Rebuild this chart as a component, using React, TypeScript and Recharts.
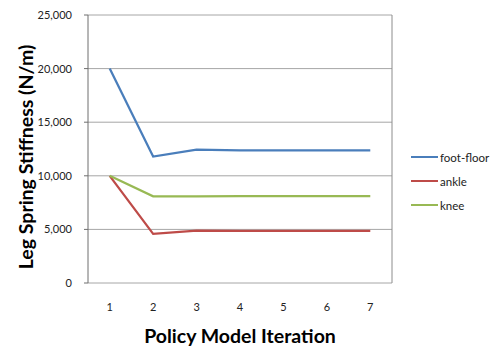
import { LineChart, Line, XAxis, YAxis, CartesianGrid, ReferenceLine, Label } from 'recharts';

const iterations = [1, 2, 3, 4, 5, 6, 7];
const footFloor = [20000, 11800, 12440, 12370, 12370, 12370, 12370];
const ankle = [10000, 4580, 4880, 4870, 4870, 4870, 4870];
const knee = [10000, 8080, 8090, 8110, 8110, 8110, 8110];

const yTicks = [0, 5000, 10000, 15000, 20000, 25000];
const bandEdges = [0.5, 1.5, 2.5, 3.5, 4.5, 5.5, 6.5, 7.5];

const SERIES = [
    { key: 'footFloor', name: 'foot-floor', color: '#4A7EBB' },
    { key: 'ankle', name: 'ankle', color: '#BE4B48' },
    { key: 'knee', name: 'knee', color: '#98B954' },
];

const FONT = 'Lato, "Open Sans", sans-serif';

const data = iterations.map((it, i) => ({
    it,
    footFloor: footFloor[i],
    ankle: ankle[i],
    knee: knee[i],
}));

export default function App() {
    return (
        <div style={{ position: 'absolute', top: 0, left: 0, width: 500, height: 353, background: '#fff', fontFamily: FONT }}>
            <LineChart width={500} height={353} data={data} margin={{ top: 15, right: 108, bottom: 0, left: 0 }}>
                <CartesianGrid horizontal vertical={false} stroke="#a6a6a6" />
                {/* tick marks sit between the categories, like Excel */}
                <XAxis
                    xAxisId="edges"
                    type="number"
                    dataKey="it"
                    domain={[0.5, 7.5]}
                    ticks={bandEdges}
                    tick={false}
                    tickSize={4}
                    height={0}
                    stroke="#6e6e6e"
                />
                <XAxis
                    xAxisId="main"
                    type="number"
                    dataKey="it"
                    domain={[0.5, 7.5]}
                    ticks={iterations}
                    tickLine={false}
                    axisLine={false}
                    tickMargin={14}
                    height={70}
                    tick={{ fill: '#222', fontSize: 11, fontFamily: FONT }}
                >
                    <Label
                        value="Policy Model Iteration"
                        position="insideBottom"
                        offset={10}
                        style={{ fontSize: 19.5, fontWeight: 'bold', fill: '#000', fontFamily: FONT }}
                    />
                </XAxis>
                <YAxis
                    domain={[0, 25000]}
                    ticks={yTicks}
                    width={88}
                    tickSize={4}
                    tickMargin={12}
                    stroke="#6e6e6e"
                    tick={{ fill: '#222', fontSize: 11, fontFamily: FONT }}
                    tickFormatter={(v: number) => v.toLocaleString('en-US')}
                >
                    <Label
                        content={({ viewBox }: any) => {
                            const cx = 25;
                            const cy = viewBox.y + viewBox.height / 2 + 8;
                            return (
                                <text
                                    x={cx}
                                    y={cy}
                                    transform={`rotate(-90, ${cx}, ${cy})`}
                                    textAnchor="middle"
                                    dominantBaseline="central"
                                    style={{ fontSize: 19.5, fontWeight: 'bold', fill: '#000', fontFamily: FONT }}
                                >
                                    Leg Spring Stiffness (N/m)
                                </text>
                            );
                        }}
                    />
                </YAxis>
                <ReferenceLine xAxisId="main" x={7.5} stroke="#8c8c8c" />
                {SERIES.map((s) => (
                    <Line
                        key={s.key}
                        xAxisId="main"
                        type="linear"
                        dataKey={s.key}
                        name={s.name}
                        stroke={s.color}
                        strokeWidth={2.25}
                        dot={false}
                        isAnimationActive={false}
                    />
                ))}
            </LineChart>
            <div style={{ position: 'absolute', left: 411, top: 145, fontSize: 11.5, color: '#222' }}>
                {SERIES.map((s) => (
                    <div key={s.key} style={{ display: 'flex', alignItems: 'center', height: 24 }}>
                        <span style={{ display: 'inline-block', width: 27, height: 2.25, background: s.color, marginRight: 2 }} />
                        <span>{s.name}</span>
                    </div>
                ))}
            </div>
        </div>
    );
}
